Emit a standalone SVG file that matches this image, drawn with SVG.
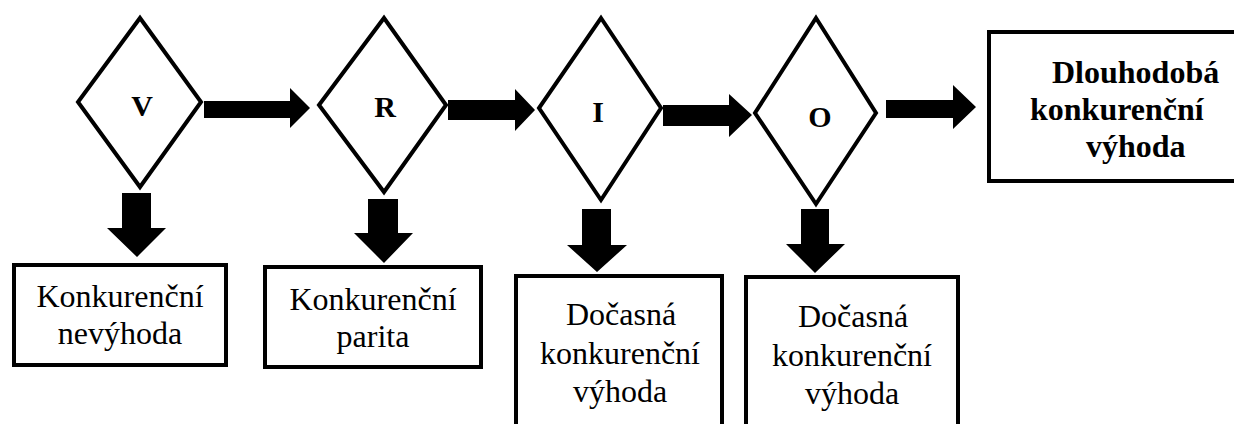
<svg xmlns="http://www.w3.org/2000/svg" width="1234" height="424" viewBox="0 0 1234 424">
<style>
.shape{fill:#fff;stroke:#000;stroke-width:4;stroke-linejoin:miter}
.t{font-family:"Liberation Serif","Times New Roman",serif;font-size:32px;fill:#000;text-anchor:middle}
.b{font-weight:bold}
.l{font-size:30px}
.arr{fill:#000}
</style>
<rect width="1234" height="424" fill="#fff"/>
<g id="connectors">
<polygon class="arr" points="204,101 290,101 290,88 310,108 290,128 290,118 204,118"/>
<polygon class="arr" points="448,100 515,100 515,89 535,110 515,131 515,120 448,120"/>
<polygon class="arr" points="663,105 729,105 729,94 752,115 729,137 729,126 663,126"/>
<polygon class="arr" points="886,100 953,100 953,85 976,107 953,129 953,118 886,118"/>
<polygon class="arr" points="122,193 151,193 151,228 166,228 137,257 107,228 122,228"/>
<polygon class="arr" points="368,199 398,199 398,233 413,233 384,263 354,233 368,233"/>
<polygon class="arr" points="582,209 611,209 611,245 627,245 597,272 567,245 582,245"/>
<polygon class="arr" points="801,209 829,209 829,244 845,244 815,273 786,244 801,244"/>
</g>
<g id="node-V">
<polygon class="shape" points="140,18 201,102 140,187 78,102"/>
<text class="t b l" x="142" y="116">V</text>
</g>
<g id="node-R">
<polygon class="shape" points="384,18 446,105 384,192 319,105"/>
<text class="t b l" x="385" y="117">R</text>
</g>
<g id="node-I">
<polygon class="shape" points="601,18 661,108 601,200 539,108"/>
<text class="t b l" x="598" y="122">I</text>
</g>
<g id="node-O">
<polygon class="shape" points="816,18 876,113 816,204 755,113"/>
<text class="t b l" x="820" y="127">O</text>
</g>
<g id="node-dlouhodoba">
<rect class="shape" x="989" y="32" width="250" height="149"/>
<text class="t b" style="text-anchor:start" x="1052" y="83">Dlouhodobá</text>
<text class="t b" style="text-anchor:start" x="1030" y="120">konkurenční</text>
<text class="t b" style="text-anchor:start" x="1086" y="157">výhoda</text>
</g>
<g id="node-nevyhoda">
<rect class="shape" x="14" y="265" width="212" height="100"/>
<text class="t" x="120" y="307">Konkurenční</text>
<text class="t" x="120" y="344">nevýhoda</text>
</g>
<g id="node-parita">
<rect class="shape" x="265" y="267" width="216" height="100"/>
<text class="t" x="373" y="310">Konkurenční</text>
<text class="t" x="373" y="347">parita</text>
</g>
<g id="node-docasna1">
<rect class="shape" x="516" y="276" width="206" height="200"/>
<text class="t" x="621" y="325">Dočasná</text>
<text class="t" x="620" y="364">konkurenční</text>
<text class="t" x="620" y="402">výhoda</text>
</g>
<g id="node-docasna2">
<rect class="shape" x="746" y="277" width="212" height="200"/>
<text class="t" x="853" y="327">Dočasná</text>
<text class="t" x="852" y="366">konkurenční</text>
<text class="t" x="852" y="404">výhoda</text>
</g>
</svg>
